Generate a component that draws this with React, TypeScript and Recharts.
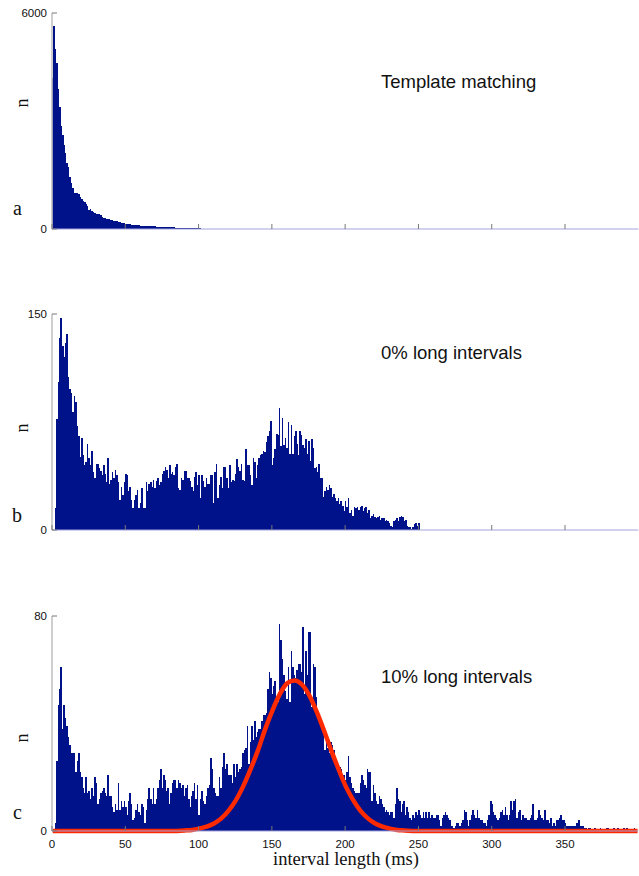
import React from 'react';
import { ComposedChart, Bar, Line, XAxis, YAxis } from 'recharts';

const W = 639;
const BINS = 400;
const BAR_COLOR = '#001289';
const FIT_COLOR = '#ff2a00';
const SANS = '"Liberation Sans", Arial, Helvetica, sans-serif';
const SERIF = '"Liberation Serif", "Times New Roman", serif';

// counts per 1 ms bin, first value is the 0-1 ms bin
const countsTemplate = [
  4200, 5650, 5000, 4600, 3900, 3400, 2850, 2600, 2330, 2100,
  1830, 1730, 1450, 1270, 1130, 1000, 990, 1010, 960, 900,
  820, 790, 760, 700, 640, 530, 545, 500, 470, 440,
  430, 410, 420, 390, 320, 310, 315, 285, 275, 270,
  255, 245, 235, 225, 210, 205, 195, 180, 165, 155,
  152, 145, 138, 128, 120, 118, 110, 104, 100, 102,
  95, 90, 92, 88, 84, 82, 80, 78, 74, 72,
  70, 69, 66, 64, 62, 60, 57, 55, 52, 50,
  48, 47, 44, 42, 40, 38, 37, 35, 34, 32,
  30, 29, 27, 26, 24, 22, 21, 20, 18, 17,
  15, 14, 13, 11, 10, 9, 8, 7, 6, 5, 4,
];

const countsLong0 = [
  0, 0,
  15, 77, 103, 133, 147, 128, 120, 130, 136, 106, 98, 95, 82, 93, 89, 72,
  65, 51, 64, 52, 45, 47, 60, 50, 45, 55, 40, 36, 46, 46, 43, 41,
  38, 45, 39, 33, 50, 32, 35, 40, 36, 42, 38, 33, 21, 30, 24, 33,
  39, 38, 27, 30, 21, 15, 21, 24, 28, 15, 19, 29, 15, 15, 33, 27,
  32, 33, 30, 35, 29, 34, 36, 31, 33, 39, 41, 44, 42, 36, 45, 39,
  40, 38, 44, 46, 29,
  28,
  36, 35, 41, 41, 36, 36, 34, 30, 27, 37, 40, 31, 38, 22, 38, 34,
  30, 36, 32, 32, 38, 38, 19, 40, 46, 22, 31, 37, 29, 44, 44, 36,
  29, 45, 33, 35, 34, 39, 49, 44, 41, 46, 35, 34, 56, 45, 45, 38,
  31, 50, 47, 36, 45, 50, 52, 53, 55, 54, 61, 65, 69, 76, 45, 50,
  56, 67, 66, 85, 58, 78, 59, 64, 57, 75, 53, 73, 53, 65, 69, 60,
  52, 69, 66, 59, 57,
  63, 53, 62, 48, 63, 57, 43, 44, 40, 46, 36, 36, 23, 27, 30, 28,
  31, 29, 23, 25, 22, 20, 22, 18, 20, 17, 13, 20, 16, 22, 12, 14,
  10, 16, 15, 16, 14, 16, 17, 13, 15, 16, 12, 14, 8, 10, 11, 9,
  8, 9, 10, 7, 8, 8, 6, 7, 6, 5, 3, 2, 6, 7, 8, 6,
  9, 10, 9, 6, 7, 3, 2, 2, 1, 2, 4, 5, 3, 5,
];

const countsLong10 = [
  0, 0,
  3, 26, 47, 53, 61, 38, 47, 42, 39, 35, 32, 29, 29, 29, 22, 26,
  29, 22, 20, 16, 14, 20, 14, 15, 12, 16, 13, 20, 18, 10, 12, 14,
  15, 16, 14, 13, 21, 13, 13, 9, 7, 10, 8, 18, 8, 11, 9, 11,
  9, 6, 11, 14, 10, 4, 5, 8, 10, 7, 6, 10, 9, 3, 8, 12,
  16, 12, 10, 16, 10, 12, 16, 19, 23, 16, 21, 19, 15, 16, 10, 14,
  18, 19, 19, 16, 19,
  18,
  16, 17, 13, 16, 17, 12, 9, 13, 15, 18, 12, 17, 6, 12, 15, 11,
  10, 13, 16, 17, 27, 23, 16, 14, 13, 13, 20, 16, 24, 29, 23, 25,
  21, 21, 21, 18, 25, 20, 25, 22, 23, 24, 29, 30, 31, 39, 25, 33,
  39, 34, 41, 35, 37, 38, 38, 41, 43, 43, 44, 53, 59, 57, 51, 54,
  56, 49, 48, 77, 71, 64, 58, 52, 49, 61, 48, 67, 61, 58, 57, 60,
  62, 62, 59, 76, 51,
  67, 58, 74, 74, 46, 62, 61, 50, 43, 41, 40, 38, 38, 30, 35, 31,
  29, 33, 32, 30, 28, 25, 22, 24, 23, 21, 21, 19, 22, 28, 20, 18,
  16, 15, 14, 14, 14, 18, 21, 19, 17, 16, 23, 22, 22, 11, 17, 14,
  11, 10, 13, 12, 10, 9, 7, 8, 7, 6, 7, 7, 5, 10, 16, 12,
  11, 7, 10, 11, 6, 9, 7, 5, 4, 6, 5, 7, 6, 8,
  6, 5, 7, 5,
  7, 5, 7, 5, 6, 5, 5, 6, 6, 4, 2, 5, 6, 7, 6, 5,
  4, 2, 2, 1, 2, 3, 3, 2, 3, 4, 8, 7, 4, 2, 4, 6,
  8, 6, 5, 8, 5, 4, 4, 3, 3, 2, 4, 6, 11, 10, 7, 6,
  5, 4, 5, 7, 8, 6, 9, 6, 4, 6, 11, 8, 11, 12, 5, 7,
  8, 4, 6, 5, 5, 4, 4, 5, 6, 10, 4, 4, 5, 8, 6, 5,
  4, 8, 4, 4, 3, 5, 2, 3, 2, 4, 4, 5, 6, 4, 4, 3,
  2, 2, 2, 2, 2, 2, 2, 3, 4, 2, 2, 2, 1,
  1, 0, 1, 1, 0, 0, 1, 0, 0, 0, 1, 0, 0, 0, 1, 1,
  0, 0, 0, 1, 0, 0, 1, 0, 0, 0, 1, 0, 1, 0, 0, 0,
  0, 1, 0, 0,
];

// red fitted curve
const fitMs = [0, 80, 90, 95, 100, 105, 110, 115, 120, 125, 130, 135, 140, 145, 150, 155, 160, 165,
  170, 175, 180, 185, 190, 195, 200, 205, 210, 215, 220, 225, 230, 235, 240, 250, 300, 400];
const fitN = [0, 0, 0.2, 0.4, 0.9, 1.6, 2.8, 4.7, 7.6, 11.5, 16.7, 23, 30, 38, 45, 51, 55, 56,
  54.5, 50.5, 44.5, 37.5, 30, 23, 16.5, 11.5, 7.5, 4.7, 2.8, 1.6, 0.9, 0.4, 0.2, 0, 0, 0];

const xTicks = [0, 50, 100, 150, 200, 250, 300, 350];

type Row = { ms: number; n: number; fit: number | null };

function buildRows(counts: number[], withFit = false): Row[] {
  const rows: Row[] = Array.from({ length: BINS }, (_, k) => ({ ms: k + 0.5, n: counts[k] ?? 0, fit: null }));
  if (withFit) {
    fitMs.forEach((ms, i) => {
      const k = Math.min(Math.max(Math.round(ms - 0.5), 0), BINS - 1);
      rows[k].fit = fitN[i];
    });
  }
  return rows;
}

// solid histogram bar, a hair wider than the 1 ms bin so neighbours touch
const HistBar = (p: any) => {
  if (!p.height || p.height <= 0) return <g />;
  const cx = p.x + p.width / 2;
  return (
    <rect x={cx - 0.8} y={p.y} width={1.6} height={p.height} fill={BAR_COLOR} shapeRendering="crispEdges" />
  );
};

const XTick = ({ x, y, payload, showLabel }: any) => (
  <g>
    <line x1={x} x2={x} y1={y} y2={y - 5} stroke="#777" strokeWidth={1} />
    {showLabel && (
      <text x={x} y={y + 17} textAnchor="middle" fontSize={11.5} fontFamily={SANS} fill="#111">
        {payload.value}
      </text>
    )}
  </g>
);

const YTick = ({ x, y, payload }: any) => (
  <g>
    <line x1={x} x2={x + 5} y1={y} y2={y} stroke="#777" strokeWidth={1} />
    <text x={x - 5} y={y + 4} textAnchor="end" fontSize={11.5} fontFamily={SANS} fill="#111">
      {payload.value}
    </text>
  </g>
);

interface PanelProps {
  rows: Row[];
  yMax: number;
  top: number;
  height: number;
  plotTop: number;
  plotBottom: number;
  showXLabels?: boolean;
  withFit?: boolean;
}

function Panel({ rows, yMax, top, height, plotTop, plotBottom, showXLabels = false, withFit = false }: PanelProps) {
  return (
    <div style={{ position: 'absolute', left: 0, top }}>
      <ComposedChart
        width={W}
        height={height}
        data={rows}
        margin={{ top: plotTop - top, right: 0.7, bottom: top + height - plotBottom - 1, left: 0 }}
        barCategoryGap={0}
        barGap={0}
      >
        <XAxis
          dataKey="ms"
          type="number"
          domain={[0, 400]}
          ticks={xTicks}
          height={1}
          tickSize={0}
          tickMargin={0}
          tickLine={false}
          axisLine={{ stroke: '#a4a4dc', strokeWidth: 1 }}
          tick={(p: any) => <XTick {...p} showLabel={showXLabels} />}
          interval={0}
        />
        <YAxis
          type="number"
          domain={[0, yMax]}
          ticks={[0, yMax]}
          width={52}
          tickSize={0}
          tickMargin={0}
          tickLine={false}
          axisLine={{ stroke: '#c2c2c2', strokeWidth: 1.6 }}
          tick={(p: any) => <YTick {...p} />}
          interval={0}
        />
        <Bar dataKey="n" fill={BAR_COLOR} shape={HistBar} isAnimationActive={false} />
        {withFit && (
          <Line
            dataKey="fit"
            type="monotone"
            stroke={FIT_COLOR}
            strokeWidth={4.5}
            dot={false}
            activeDot={false}
            connectNulls
            isAnimationActive={false}
          />
        )}
      </ComposedChart>
    </div>
  );
}

const rowsA = buildRows(countsTemplate);
const rowsB = buildRows(countsLong0);
const rowsC = buildRows(countsLong10, true);

export default function App() {
  return (
    <div style={{ position: 'absolute', left: 0, top: 0, width: W, height: 876, background: '#fff', overflow: 'hidden' }}>
      <Panel rows={rowsA} yMax={6000} top={0} height={240} plotTop={13} plotBottom={229} />
      <Panel rows={rowsB} yMax={150} top={300} height={240} plotTop={314} plotBottom={530} />
      <Panel rows={rowsC} yMax={80} top={600} height={276} plotTop={616} plotBottom={831} showXLabels withFit />
      <svg width={W} height={876} style={{ position: 'absolute', left: 0, top: 0, pointerEvents: 'none' }}>
        <g fontFamily={SANS} fontSize={18.5} fill="#111">
          <text x={381} y={88}>Template matching</text>
          <text x={381} y={359}>0% long intervals</text>
          <text x={381} y={683}>10% long intervals</text>
        </g>
        <g fontFamily={SERIF} fill="#111">
          <text x={22} y={103} fontSize={18} textAnchor="middle" dominantBaseline="central" transform="rotate(-90 22 103)">n</text>
          <text x={22} y={428} fontSize={18} textAnchor="middle" dominantBaseline="central" transform="rotate(-90 22 428)">n</text>
          <text x={22} y={738} fontSize={18} textAnchor="middle" dominantBaseline="central" transform="rotate(-90 22 738)">n</text>
          <text x={13} y={215} fontSize={20}>a</text>
          <text x={12} y={522} fontSize={20}>b</text>
          <text x={13} y={819} fontSize={20}>c</text>
          <text x={346} y={865} fontSize={18.5} textAnchor="middle">interval length (ms)</text>
        </g>
      </svg>
    </div>
  );
}
